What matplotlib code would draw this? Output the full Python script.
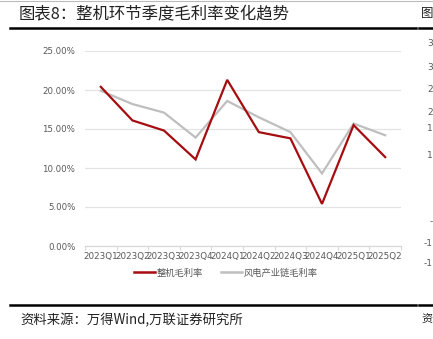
import matplotlib
matplotlib.use("Agg")
import matplotlib.pyplot as plt
from matplotlib.lines import Line2D

plt.rcParams['font.family'] = ['Noto Sans CJK SC', 'DejaVu Sans']

quarters = ['2023Q1', '2023Q2', '2023Q3', '2023Q4', '2024Q1', '2024Q2',
            '2024Q3', '2024Q4', '2025Q1', '2025Q2']
turbine_margin = [20.4, 16.1, 14.8, 11.1, 21.3, 14.6, 13.8, 5.4, 15.5, 11.4]
chain_margin = [19.9, 18.2, 17.1, 13.9, 18.6, 16.5, 14.6, 9.3, 15.7, 14.2]
yticks = [0, 5, 10, 15, 20, 25]
ytick_labels = ['0.00%', '5.00%', '10.00%', '15.00%', '20.00%', '25.00%']
series_names = ['整机毛利率', '风电产业链毛利率']
title = '图表8：整机环节季度毛利率变化趋势'
source = '资料来源：万得Wind,万联证券研究所'
neighbor_ticks = ['3', '3', '2', '2', '1', '1', '-', '-1', '-1']

W, H = 433, 339
fig = plt.figure(figsize=(W / 100, H / 100), dpi=100)

def fx(px):
    return px / W

def fy(py):
    return 1 - py / H

red = '#A50D10'
gray = '#BFBFBF'
txt = '#595959'

ax = fig.add_axes([fx(85), fy(246), fx(401) - fx(85), fy(51) - fy(246)])
x = list(range(len(quarters)))
ax.plot(x, turbine_margin, color=red, lw=1.6, solid_joinstyle='miter', zorder=3)
ax.plot(x, chain_margin, color=gray, lw=1.6, solid_joinstyle='miter', zorder=2)
ax.set_xlim(-0.5, len(quarters) - 0.5)
ax.set_ylim(0, 25)
ax.set_yticks(yticks)
ax.set_yticklabels(ytick_labels)
ax.set_xticks(x)
ax.set_xticklabels(quarters)
ax.set_xticks([i - 0.5 for i in range(len(quarters) + 1)], minor=True)
ax.tick_params(axis='x', which='major', length=0, pad=4, labelsize=6.3, colors=txt)
ax.tick_params(axis='x', which='minor', length=3, color='#D9D9D9', width=0.8)
ax.tick_params(axis='y', length=0, pad=7, labelsize=6.2, colors=txt)
for lab in ax.get_xticklabels() + ax.get_yticklabels():
    lab.set_family(['DejaVu Sans'])
ax.grid(axis='y', color='#E3E3E3', lw=0.9)
ax.set_axisbelow(True)
for s in ['top', 'right', 'left']:
    ax.spines[s].set_visible(False)
ax.spines['bottom'].set_color('#D9D9D9')
ax.spines['bottom'].set_linewidth(0.9)

handles = [Line2D([0], [0], color=red, lw=1.8), Line2D([0], [0], color=gray, lw=1.8)]
fig.legend(handles, series_names, loc='center', bbox_to_anchor=(fx(226), fy(273)),
           ncol=2, frameon=False, fontsize=6.7, handlelength=2.2, handletextpad=0.2,
           columnspacing=2.0, labelcolor=txt)

# title bar
fig.text(fx(19), fy(14), title, fontsize=11.8, va='center', ha='left', color='#222222')
fig.text(fx(433), fy(14), '图', fontsize=9, va='center', ha='right', color='#222222')
fig.add_artist(Line2D([fx(10), fx(416)], [fy(28), fy(28)], color='black', lw=1.8))
fig.add_artist(Line2D([fx(419), fx(433)], [fy(28), fy(28)], color='black', lw=1.8))
fig.add_artist(Line2D([fx(10), fx(416)], [fy(305), fy(305)], color='black', lw=1.8))
fig.add_artist(Line2D([fx(419), fx(433)], [fy(305), fy(305)], color='black', lw=1.8))
fig.add_artist(Line2D([0, 1], [fy(0.5), fy(0.5)], color='#BBBBBB', lw=0.8))
fig.text(fx(20), fy(320), source, fontsize=9.6, va='center', ha='left',
         style='italic', color='#222222')
fig.text(fx(433), fy(320), '资', fontsize=8, va='center', ha='right', color='#222222')

# partial neighbouring chart ticks
ny = [44, 67, 90, 113, 129, 155, 222, 243, 263]
for lab, py in zip(neighbor_ticks, ny):
    fig.text(fx(433), fy(py), lab, fontsize=6.5, va='center', ha='right', color=txt,
             family=['DejaVu Sans'])

fig.savefig('out.png', dpi=100)
